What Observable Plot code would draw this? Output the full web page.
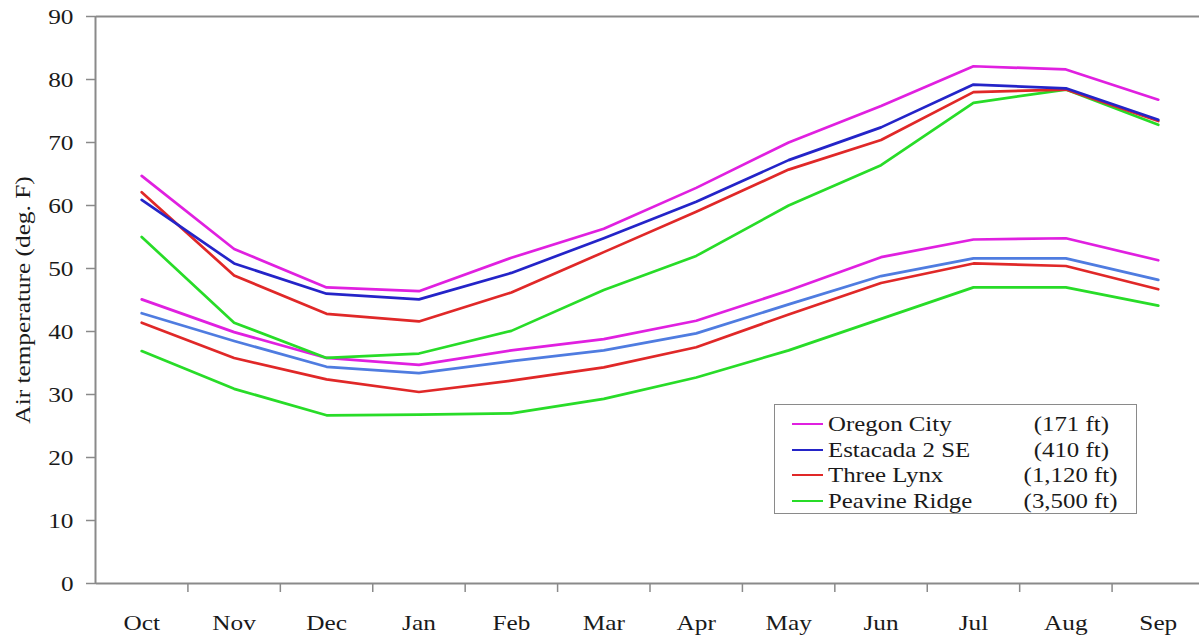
<!DOCTYPE html>
<html><head><meta charset="utf-8">
<script src="https://cdn.jsdelivr.net/npm/d3@7"></script>
<script src="https://cdn.jsdelivr.net/npm/@observablehq/plot@0.6"></script>
<style>
body{margin:0;background:#fff;}
#wrap{position:relative;width:1199px;height:638px;overflow:hidden;font-family:"Liberation Serif","Times New Roman",serif;color:#1a1a1a;}
#legend{position:absolute;left:774px;top:404px;width:363px;height:110px;box-sizing:border-box;border:1.5px solid #8a8a8a;background:#fff;}
.row{position:absolute;left:0;width:100%;height:26px;}
.sw{position:absolute;left:17px;top:12px;width:31px;height:0;border-top:2.5px solid;}
.nm{position:absolute;left:53px;top:0;font-size:22px;line-height:26px;white-space:nowrap;transform:scaleX(1.13);transform-origin:left center;}
.el{position:absolute;left:296px;width:0;top:0;font-size:22px;line-height:26px;white-space:nowrap;display:flex;justify-content:center;}
.el span{display:inline-block;transform:scaleX(1.13);}
</style></head>
<body><div id="wrap"></div>
<script>
const months = ["Oct","Nov","Dec","Jan","Feb","Mar","Apr","May","Jun","Jul","Aug","Sep"];
const stations = ["Oregon City","Estacada 2 SE","Three Lynx","Peavine Ridge"];
const elevations = ["(171 ft)","(410 ft)","(1,120 ft)","(3,500 ft)"];
const yTicks = [0,10,20,30,40,50,60,70,80,90];
const yLabel = "Air temperature (deg. F)";

const oregonMax    = [64.7, 53.1, 47.0, 46.4, 51.7, 56.3, 62.8, 70.0, 75.8, 82.1, 81.6, 76.8];
const estacadaMax  = [60.9, 50.8, 46.0, 45.1, 49.3, 54.8, 60.6, 67.2, 72.4, 79.2, 78.6, 73.6];
const threeLynxMax = [62.1, 48.9, 42.8, 41.6, 46.2, 52.6, 59.0, 65.7, 70.4, 78.0, 78.4, 73.4];
const peavineMax   = [55.0, 41.4, 35.8, 36.5, 40.1, 46.6, 52.0, 60.0, 66.4, 76.3, 78.4, 72.8];
const oregonMin    = [45.1, 39.9, 35.8, 34.7, 37.0, 38.8, 41.7, 46.5, 51.8, 54.6, 54.8, 51.3];
const estacadaMin  = [42.9, 38.5, 34.4, 33.4, 35.3, 37.0, 39.7, 44.3, 48.8, 51.6, 51.6, 48.2];
const threeLynxMin = [41.4, 35.8, 32.4, 30.4, 32.2, 34.3, 37.5, 42.7, 47.7, 50.8, 50.4, 46.7];
const peavineMin   = [36.9, 30.9, 26.7, 26.8, 27.0, 29.3, 32.7, 37.0, 42.0, 47.0, 47.0, 44.1];

const colors = ["#e020e0","#2424c8","#e02828","#28dc28"];
const minColors = ["#e020e0","#4f7ce0","#e02828","#28dc28"];

const series = [
  {values: oregonMin, color: minColors[0]},
  {values: estacadaMin, color: minColors[1]},
  {values: threeLynxMin, color: minColors[2]},
  {values: peavineMin, color: minColors[3]},
  {values: peavineMax, color: colors[3]},
  {values: threeLynxMax, color: colors[2]},
  {values: estacadaMax, color: colors[1]},
  {values: oregonMax, color: colors[0]}
];
const idx = months.map((m,i)=>i);
const bounds = months.slice(1).map((m,i)=>i+0.5);
const axisColor = "#8a8a8a";

const chart = Plot.plot({
  width: 1199, height: 638,
  marginTop: 16, marginBottom: 55, marginLeft: 96, marginRight: 0,
  style: {fontFamily: "'Liberation Serif', 'Times New Roman', serif", fontSize: "22px", color: "#1a1a1a", background: "transparent", overflow: "hidden"},
  x: {type: "linear", domain: [-0.5, 11.5], range: [95, 1204], axis: null},
  y: {domain: [0, 90], range: [583, 16], axis: null},
  marks: [
    Plot.axisY({ticks: yTicks, tickSize: 10, tickPadding: 13, stroke: axisColor, strokeWidth: 1.5, label: null, fontSize: 22}),
    Plot.axisX({ticks: bounds, tickSize: 9, tickFormat: () => "", stroke: axisColor, strokeWidth: 1.5, label: null}),
    Plot.axisX({ticks: idx, tickSize: 0, tickPadding: 31, tickFormat: i => months[i], label: null, fontSize: 22}),
    Plot.ruleY([90], {stroke: axisColor, strokeWidth: 2}),
    Plot.ruleY([0], {stroke: axisColor, strokeWidth: 2}),
    Plot.ruleX([-0.5], {stroke: axisColor, strokeWidth: 2}),
    ...series.map(s => Plot.line(s.values.map((v,i)=>({i, v})), {x: "i", y: "v", stroke: s.color, strokeWidth: 2.7})),
    Plot.text([yLabel], {frameAnchor: "left", textAnchor: "middle", rotate: -90, dx: -74, dy: 0, fontSize: 22})
  ]
});
const wrap = document.getElementById("wrap");
wrap.appendChild(chart);

// widen glyphs to match the reference's wider serif face
chart.querySelectorAll("text").forEach(t => {
  const len = t.getComputedTextLength();
  if (len > 0) {
    t.setAttribute("textLength", (len * 1.15).toFixed(1));
    t.setAttribute("lengthAdjust", "spacingAndGlyphs");
  }
});

const legend = document.createElement("div");
legend.id = "legend";
stations.forEach((s, k) => {
  const row = document.createElement("div");
  row.className = "row";
  row.style.top = (6 + k*25.5) + "px";
  row.innerHTML = `<div class="sw" style="border-color:${colors[k]}"></div><div class="nm">${s}</div><div class="el"><span>${elevations[k]}</span></div>`;
  legend.appendChild(row);
});
wrap.appendChild(legend);
</script></body></html>
